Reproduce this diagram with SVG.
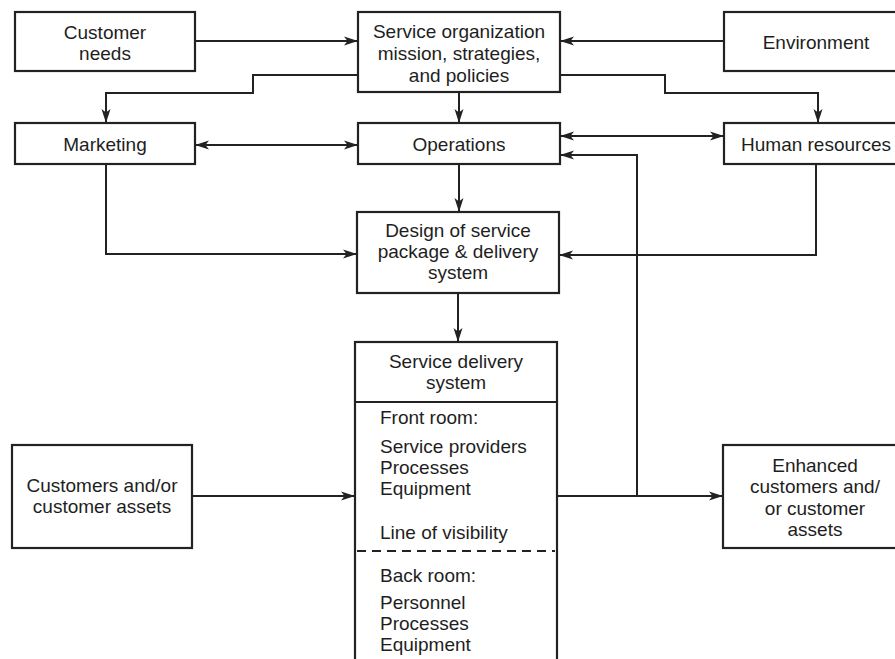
<svg xmlns="http://www.w3.org/2000/svg" width="895" height="659" viewBox="0 0 895 659">
<defs>
<style>
.box{fill:#fff;stroke:#222;stroke-width:2.2}
.ln{fill:none;stroke:#222;stroke-width:2}
.dash{fill:none;stroke:#222;stroke-width:2;stroke-dasharray:9,6}
text{font-family:"Liberation Sans",Arial,sans-serif;font-size:19px;fill:#1e1e1e}
.c{text-anchor:middle}
</style>
<marker id="ah" viewBox="0 0 14 10" refX="14" refY="5" markerWidth="14" markerHeight="10" markerUnits="userSpaceOnUse" orient="auto-start-reverse">
<path d="M0,0.5 L14,5 L0,9.5 L3.5,5 Z" fill="#222"/>
</marker>
</defs>
<rect width="895" height="659" fill="#fff"/>
<g id="connectors">
<path class="ln" d="M195,41 H358" marker-end="url(#ah)"/>
<path class="ln" d="M724,41 H560" marker-end="url(#ah)"/>
<path class="ln" d="M358,75 H253 V93 H106 V123" marker-end="url(#ah)"/>
<path class="ln" d="M560,75 H665 V93 H818 V123" marker-end="url(#ah)"/>
<path class="ln" d="M459,92 V123" marker-end="url(#ah)"/>
<path class="ln" d="M195,145 H358" marker-start="url(#ah)" marker-end="url(#ah)"/>
<path class="ln" d="M560,136 H724" marker-start="url(#ah)" marker-end="url(#ah)"/>
<path class="ln" d="M459,164 V212" marker-end="url(#ah)"/>
<path class="ln" d="M106,164 V254 H357" marker-end="url(#ah)"/>
<path class="ln" d="M816,164 V255 H559" marker-end="url(#ah)"/>
<path class="ln" d="M458,293 V342" marker-end="url(#ah)"/>
<path class="ln" d="M192,496 H355" marker-end="url(#ah)"/>
<path class="ln" d="M557,496 H723" marker-end="url(#ah)"/>
<path class="ln" d="M637,496 V155 H560" marker-end="url(#ah)"/>
</g>
<g id="customer-needs">
<rect class="box" x="15" y="12" width="180" height="59"/>
<text class="c" x="105" y="39">Customer</text>
<text class="c" x="105" y="60">needs</text>
</g>
<g id="service-organization">
<rect class="box" x="358" y="12" width="202" height="80"/>
<text class="c" x="459" y="38">Service organization</text>
<text class="c" x="459" y="60">mission, strategies,</text>
<text class="c" x="459" y="82">and policies</text>
</g>
<g id="environment">
<rect class="box" x="724" y="12" width="200" height="59"/>
<text class="c" x="816" y="49">Environment</text>
</g>
<g id="marketing">
<rect class="box" x="15" y="123" width="180" height="41"/>
<text class="c" x="105" y="151">Marketing</text>
</g>
<g id="operations">
<rect class="box" x="358" y="123" width="202" height="41"/>
<text class="c" x="459" y="151">Operations</text>
</g>
<g id="human-resources">
<rect class="box" x="724" y="123" width="200" height="41"/>
<text class="c" x="816" y="151">Human resources</text>
</g>
<g id="design">
<rect class="box" x="357" y="212" width="202" height="81"/>
<text class="c" x="458" y="237">Design of service</text>
<text class="c" x="458" y="258">package &amp; delivery</text>
<text class="c" x="458" y="279">system</text>
</g>
<g id="service-delivery-system">
<rect class="box" x="355" y="342" width="202" height="340"/>
<line class="ln" x1="355" y1="402" x2="557" y2="402"/>
<line class="dash" x1="357" y1="551" x2="555" y2="551"/>
<text class="c" x="456" y="368">Service delivery</text>
<text class="c" x="456" y="389">system</text>
<text x="380" y="424">Front room:</text>
<text x="380" y="453">Service providers</text>
<text x="380" y="474">Processes</text>
<text x="380" y="495">Equipment</text>
<text x="380" y="539">Line of visibility</text>
<text x="380" y="582">Back room:</text>
<text x="380" y="609">Personnel</text>
<text x="380" y="630">Processes</text>
<text x="380" y="651">Equipment</text>
</g>
<g id="customers-assets">
<rect class="box" x="12" y="445" width="180" height="103"/>
<text class="c" x="102" y="492">Customers and/or</text>
<text class="c" x="102" y="513">customer assets</text>
</g>
<g id="enhanced-customers">
<rect class="box" x="723" y="445" width="200" height="103"/>
<text class="c" x="815" y="472">Enhanced</text>
<text class="c" x="815" y="493">customers and/</text>
<text class="c" x="815" y="515">or customer</text>
<text class="c" x="815" y="536">assets</text>
</g>
</svg>
